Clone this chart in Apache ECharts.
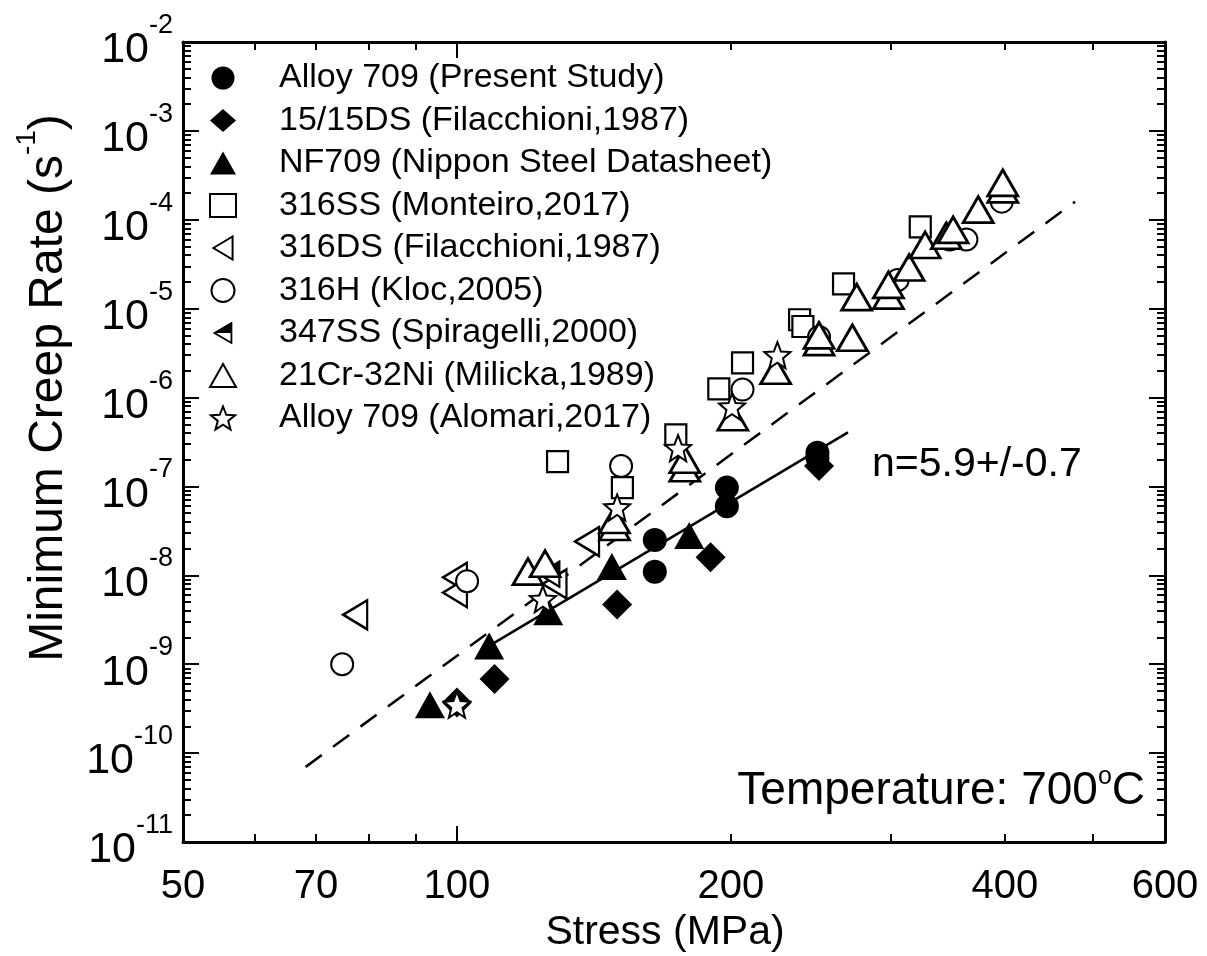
<!DOCTYPE html>
<html>
<head>
<meta charset="utf-8">
<script src="https://cdn.jsdelivr.net/npm/echarts@6/dist/echarts.min.js"></script>
<style>
html,body{margin:0;padding:0;background:#fff;}
#chart{width:1207px;height:956px;}
</style>
</head>
<body>
<div id="chart"></div>
<script>
// ---- Data (Stress MPa, Minimum creep rate 1/s) ----
const seriesNames = [
  'Alloy 709 (Present Study)',
  '15/15DS (Filacchioni,1987)',
  'NF709 (Nippon Steel Datasheet)',
  '316SS (Monteiro,2017)',
  '316DS (Filacchioni,1987)',
  '316H (Kloc,2005)',
  '347SS (Spiragelli,2000)',
  '21Cr-32Ni (Milicka,1989)',
  'Alloy 709 (Alomari,2017)'
];
const alloy709Present = [[165,2.5e-8],[165,1.1e-8],[198,9.7e-8],[198,6.0e-8],[249,2.4e-7],[249,2.1e-7]];
const ds1515 = [[100,3.7e-10],[110,6.8e-10],[150,4.7e-9],[190,1.6e-8],[250,1.7e-7]];
const nf709 = [[93.4,3.5e-10],[108.5,1.6e-9],[126,3.9e-9],[148,1.26e-8],[180,2.8e-8]];
const ss316 = [[129,1.9e-7],[152,9.7e-8],[174,3.8e-7],[194,1.25e-6],[206,2.45e-6],[238,7.5e-6],[240,6.3e-6],[266,1.9e-5],[323,8.3e-5]];
const ds316 = [[77.3,3.6e-9],[99.5,9.5e-9],[99.5,6.4e-9],[139,2.4e-8],[128,8.0e-9]];
const h316 = [[74.8,1.0e-9],[102.6,8.6e-9],[151.5,1.7e-7],[206,1.23e-6],[250,4.8e-6],[305,2.1e-5],[348,6.0e-5],[363,6.0e-5],[397,1.6e-4]];
const ss347 = [[126.3,1.03e-8]];
const cr21ni32 = [[119.7,1.1e-8],[125,1.35e-8],[149,3.5e-8],[149,4.2e-8],[178,1.6e-7],[178,2.0e-7],[201,6.0e-7],[224,2.0e-6],[250,4.2e-6],[250,5.0e-6],[272,4.7e-6],[275,1.35e-5],[298,1.4e-5],[298,1.85e-5],[314,2.9e-5],[327,5.2e-5],[345,6.6e-5],[351,7.7e-5],[374,1.3e-4],[398,2.2e-4],[398,2.6e-4]];
const alomari = [[100,3.5e-10],[124.3,5.4e-9],[150,5.8e-8],[175,2.7e-7],[200.6,7.9e-7],[225,3.0e-6]];
const dashedFit = [[68.2,7.0e-11],[478,1.6e-4]];
const solidFit = [[109.3,1.68e-9],[269,4.05e-7]];

// ---- Axis ticks / labels ----
const xLabelValues = [50,70,100,200,400,600];
const xMinorTickValues = [60,70,80,90,200,300,400,500];
const xMajorTickValues = [100];
const yDecades = [1e-11,1e-10,1e-9,1e-8,1e-7,1e-6,1e-5,1e-4,1e-3,1e-2];
const yMinorTickValues = [];
yDecades.slice(0,-1).forEach(function(d){ for (let m=2;m<=9;m++) yMinorTickValues.push(m*d); });

const FONT = 'Liberation Sans, Arial, Helvetica, sans-serif';

const starPath = 'path://M10,0 L12.6,6.5 L19.5,6.9 L14.1,11.3 L15.9,18.1 L10,14.3 L4.1,18.1 L5.9,11.3 L0.5,6.9 L7.4,6.5 Z';
const leftTriPath = 'path://M0,12 L20,0 L20,24 Z';
const halfSvg = "<svg xmlns='http://www.w3.org/2000/svg' width='26' height='30' viewBox='0 0 26 30'>" +
  "<polygon points='2,15 24,2 24,28' fill='white'/>" +
  "<polygon points='2,15 24,2 24,15' fill='black'/>" +
  "<polygon points='2,15 24,2 24,28' fill='none' stroke='black' stroke-width='2.4' stroke-linejoin='miter'/></svg>";
const halfTriImage = 'image://data:image/svg+xml;charset=utf-8,' + encodeURIComponent(halfSvg);

function sc(name, data, symbol, size, filled, bw) {
  return {
    name: name, type: 'scatter', data: data, symbol: symbol, symbolSize: size,
    xAxisIndex: 0, yAxisIndex: 0, z: 3,
    itemStyle: filled ? {color: '#000', borderColor: '#000', borderWidth: 0, opacity: 1}
                      : {color: '#fff', borderColor: '#000', borderWidth: bw || 2.2, opacity: 1},
    emphasis: {disabled: true}
  };
}

const chart = echarts.init(document.getElementById('chart'), null, {renderer: 'canvas'});

function xAxisDef(pos, ticks, len, withLine, withLabel) {
  return {
    type: 'log', logBase: 10, min: 50, max: 600, position: pos,
    axisLine: {show: withLine, onZero: false, lineStyle: {color: '#000', width: 3}},
    axisTick: {show: true, inside: true, length: len, customValues: ticks, lineStyle: {color: '#000', width: 2}},
    axisLabel: withLabel ? {
      show: true, customValues: xLabelValues, margin: 25,
      color: '#000', fontSize: 40, fontFamily: FONT,
      formatter: function(v){ return String(Math.round(v)); }
    } : {show: false},
    splitLine: {show: false},
    name: withLabel ? 'Stress (MPa)' : '',
    nameLocation: 'middle', nameGap: 70,
    nameTextStyle: {color: '#000', fontSize: 41, fontFamily: FONT, padding: [0,18,0,0]}
  };
}
function yAxisDef(pos, ticks, len, withLine, withLabel) {
  return {
    type: 'log', logBase: 10, min: 1e-11, max: 1e-2, position: pos,
    axisLine: {show: withLine, onZero: false, lineStyle: {color: '#000', width: 3}},
    axisTick: {show: true, inside: true, length: len, customValues: ticks, lineStyle: {color: '#000', width: 2}},
    axisLabel: withLabel ? {
      show: true, customValues: yDecades, margin: 10,
      color: '#000', fontFamily: FONT,
      formatter: function(v){ return '{b|10}{s|' + Math.round(Math.log10(v)) + '}'; },
      rich: {
        b: {fontSize: 43, lineHeight: 60, fontFamily: FONT, color: '#000', verticalAlign: 'bottom'},
        s: {fontSize: 27, lineHeight: 27, fontFamily: FONT, color: '#000', verticalAlign: 'top'}
      }
    } : {show: false},
    splitLine: {show: false},
    name: withLabel ? '{m|Minimum Creep Rate (s}{sup|-1}{m|)}' : '',
    nameLocation: 'middle', nameGap: 110, nameRotate: 90,
    nameTextStyle: {color: '#000', fontSize: 48, fontFamily: FONT, padding: [0,0,0,108],
      rich: {
        m: {fontSize: 48, lineHeight: 60, fontFamily: FONT, color: '#000', verticalAlign: 'bottom'},
        sup: {fontSize: 28, lineHeight: 28, fontFamily: FONT, color: '#000', verticalAlign: 'top'}
      }}
  };
}

const option = {
  backgroundColor: '#fff',
  animation: false,
  grid: {left: 183, right: 42, top: 42, bottom: 114, containLabel: false, outerBoundsMode: 'none'},
  xAxis: [
    xAxisDef('bottom', xMinorTickValues, 8, true, true),
    xAxisDef('bottom', xMajorTickValues, 16, false, false),
    xAxisDef('top', xMinorTickValues, 8, true, false),
    xAxisDef('top', xMajorTickValues, 16, false, false)
  ],
  yAxis: [
    yAxisDef('left', yDecades, 16, true, true),
    yAxisDef('left', yMinorTickValues, 8, false, false),
    yAxisDef('right', yDecades, 16, true, false),
    yAxisDef('right', yMinorTickValues, 8, false, false)
  ],
  legend: {
    orient: 'vertical', left: 209, top: 61, padding: 0,
    itemWidth: 26, itemHeight: 23, itemGap: 8.5,
    selectedMode: false,
    data: seriesNames,
    textStyle: {color: '#000', fontSize: 34, lineHeight: 34, fontFamily: FONT, padding: [0,0,0,38]}
  },
  graphic: [
    {type: 'text', left: 872, top: 444, z: 10,
     style: {text: 'n=5.9+/-0.7', fill: '#000', font: '41px ' + FONT}},
    {type: 'text', right: 62, top: 765, z: 10,
     style: {text: '{t|Temperature: 700}{d|o}{t|C}', fill: '#000', font: '46px ' + FONT,
       rich: {
         t: {fontSize: 46, lineHeight: 49, fontFamily: FONT, fill: '#000', verticalAlign: 'bottom'},
         d: {fontSize: 25, lineHeight: 25, fontFamily: FONT, fill: '#000', verticalAlign: 'top'}
       }}}
  ],
  series: [
    {name: 'dashedFit', type: 'line', data: dashedFit, symbol: 'none', z: 2, silent: true,
     lineStyle: {color: '#000', width: 2.5, type: [20, 14]}},
    {name: 'solidFit', type: 'line', data: solidFit, symbol: 'none', z: 2, silent: true,
     lineStyle: {color: '#000', width: 2.5}},
    sc(seriesNames[0], alloy709Present, 'circle', 24, true),
    sc(seriesNames[1], ds1515, 'diamond', 30, true),
    sc(seriesNames[2], nf709, 'triangle', [30, 27], true),
    sc(seriesNames[3], ss316, 'rect', 21, false, 2.2),
    sc(seriesNames[4], ds316, leftTriPath, [24, 29], false, 2.4),
    sc(seriesNames[5], h316, 'circle', 22, false, 2),
    sc(seriesNames[6], ss347, halfTriImage, [24, 29], false, 2.4),
    sc(seriesNames[7], cr21ni32, 'triangle', [30, 26], false, 2.8),
    sc(seriesNames[8], alomari, starPath, 26, false, 2)
  ]
};
chart.setOption(option);
</script>
</body>
</html>
